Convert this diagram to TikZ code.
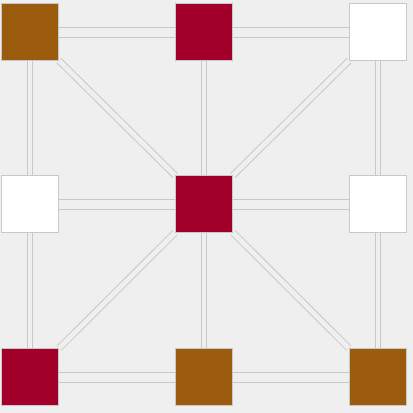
\documentclass[tikz,border=0pt]{standalone}
\usepackage{tikz}
\usetikzlibrary{positioning}
\usepackage{xcolor}
\definecolor{bgcol}{RGB}{239,239,239}
\definecolor{edgecol}{RGB}{200,200,200}
\definecolor{ochre}{RGB}{156,92,14}
\definecolor{wine}{RGB}{162,0,42}

\begin{document}
\begin{tikzpicture}[x=1pt, y=-1pt,
        cell/.style={draw=edgecol, line width=1pt, minimum size=57pt, inner sep=0pt},
        hlink/.style={draw=edgecol, line width=1pt, double=bgcol, double distance=9pt},
        vlink/.style={draw=edgecol, line width=1pt, double=bgcol, double distance=4pt},
        dlink/.style={draw=edgecol, line width=1pt, double=bgcol, double distance=5pt}]
        \fill[bgcol] (0,0) rectangle (413,413);
        \useasboundingbox (0,0) rectangle (413,413);

        % top row
        \node [cell, fill=ochre] (tl) at (30,32) {};
        \node [cell, fill=wine] (tm) at (204,32) {};
        \node [cell, fill=white] (tr) at (378,32) {};
        % middle row
        \node [cell, fill=white] (ml) at (30,204) {};
        \node [cell, fill=wine] (mc) at (204,204) {};
        \node [cell, fill=white] (mr) at (378,204) {};
        % bottom row
        \node [cell, fill=wine] (bl) at (30,377) {};
        \node [cell, fill=ochre] (bm) at (204,377) {};
        \node [cell, fill=ochre] (br) at (378,377) {};

        \draw[hlink] (tl) -- (tm);
        \draw[hlink] (tm) -- (tr);
        \draw[hlink] (ml) -- (mc);
        \draw[hlink] (mc) -- (mr);
        \draw[hlink] (bl) -- (bm);
        \draw[hlink] (bm) -- (br);

        \draw[vlink] (tl) -- (ml);
        \draw[vlink] (ml) -- (bl);
        \draw[vlink] (tm) -- (mc);
        \draw[vlink] (mc) -- (bm);
        \draw[vlink] (tr) -- (mr);
        \draw[vlink] (mr) -- (br);

        \draw[dlink] (tl) -- (mc);
        \draw[dlink] (tr) -- (mc);
        \draw[dlink] (bl) -- (mc);
        \draw[dlink] (br) -- (mc);
    \end{tikzpicture}
\end{document}
